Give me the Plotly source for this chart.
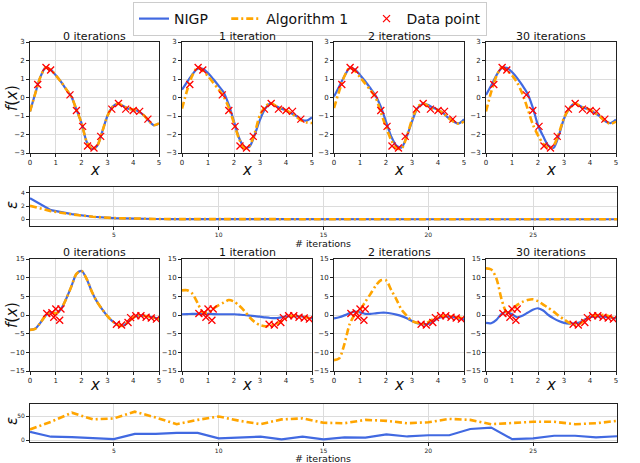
import plotly.graph_objects as go

# ---------------- data ----------------
X_GRID = [0.0, 0.2, 0.4, 0.6, 0.8, 1.0, 1.2, 1.4, 1.6, 1.8, 2.0, 2.2, 2.4,
          2.6, 2.8, 3.0, 3.2, 3.4, 3.6, 3.8, 4.0, 4.2, 4.4, 4.6, 4.8, 5.0]
TITLES = ["0 iterations", "1 iteration", "2 iterations", "30 iterations"]

# top row data points
TOP_PTS_X = [0.30, 0.62, 0.80, 1.55, 1.80, 2.04, 2.23, 2.48, 2.74, 3.17, 3.43, 3.71, 4.00, 4.25, 4.57]
TOP_PTS_Y = [0.70, 1.62, 1.49, 0.14, -0.70, -1.56, -2.62, -2.73, -2.10, -0.63, -0.32, -0.63, -0.70, -0.75, -1.17]

# top row curves
TOP_NIGP_0 = [-0.75, 0.20, 1.10, 1.60, 1.50, 1.20, 0.85, 0.45, 0.05, -0.65, -1.40, -2.40, -2.78,
              -2.62, -1.85, -1.00, -0.50, -0.33, -0.45, -0.60, -0.65, -0.75, -0.95, -1.25, -1.50, -1.40]
TOP_ALG_0 = [-0.75, 0.20, 1.10, 1.60, 1.50, 1.20, 0.85, 0.45, 0.05, -0.65, -1.40, -2.40, -2.78,
             -2.62, -1.85, -1.00, -0.50, -0.33, -0.45, -0.60, -0.65, -0.75, -0.95, -1.25, -1.50, -1.40]
TOP_NIGP_1 = [0.42, 0.85, 1.25, 1.55, 1.55, 1.32, 1.00, 0.65, 0.28, -0.40, -1.30, -2.20, -2.70,
              -2.65, -2.00, -1.20, -0.60, -0.33, -0.45, -0.60, -0.70, -0.85, -1.00, -1.20, -1.25, -1.08]
TOP_ALG_1 = [-0.60, 0.40, 1.20, 1.62, 1.45, 1.15, 0.80, 0.45, 0.05, -0.55, -1.40, -2.25, -2.75,
             -2.60, -1.90, -0.95, -0.50, -0.30, -0.45, -0.60, -0.70, -0.85, -1.05, -1.25, -1.35, -1.38]
TOP_NIGP_2 = [0.05, 0.60, 1.15, 1.58, 1.52, 1.22, 0.88, 0.50, 0.10, -0.50, -1.30, -2.10, -2.60,
              -2.70, -2.10, -1.30, -0.60, -0.35, -0.40, -0.55, -0.66, -0.85, -1.10, -1.30, -1.40, -1.17]
TOP_ALG_2 = [-0.57, 0.35, 1.15, 1.60, 1.45, 1.10, 0.75, 0.40, 0.00, -0.80, -1.60, -2.30, -2.75,
             -2.75, -2.10, -1.20, -0.55, -0.30, -0.45, -0.60, -0.68, -0.85, -1.10, -1.30, -1.42, -1.30]
TOP_NIGP_30 = [0.14, 0.65, 1.20, 1.58, 1.60, 1.38, 1.05, 0.65, 0.20, -0.55, -1.50, -2.10, -2.60,
               -2.72, -2.05, -1.15, -0.60, -0.33, -0.45, -0.58, -0.66, -0.85, -1.05, -1.30, -1.38, -1.20]
TOP_ALG_30 = [-0.75, 0.30, 1.15, 1.62, 1.45, 1.20, 0.80, 0.20, -0.60, -1.45, -2.05, -2.50, -2.75,
              -2.60, -1.95, -1.10, -0.60, -0.32, -0.45, -0.58, -0.66, -0.85, -1.05, -1.30, -1.42, -1.30]

# bottom row data points
BOT_PTS_X = [0.65, 0.85, 0.92, 1.00, 1.20, 1.15, 3.35, 3.55, 3.80, 3.90, 4.10, 4.30, 4.50, 4.70, 4.90]
BOT_PTS_Y = [0.40, 0.60, -0.60, 1.60, 1.60, -1.40, -2.50, -2.70, -2.00, -0.70, -0.20, -0.20, -0.60, -0.80, -1.10]

# bottom row curves
BOT_NIGP_0 = [-4.0, -3.7, -2.1, -0.2, 0.8, 0.4, 1.6, 4.3, 7.6, 11.0, 11.8, 9.6, 6.2,
              3.5, 1.5, -0.3, -1.7, -2.6, -2.9, -1.9, -0.7, -0.1, -0.2, -0.4, -0.7, -1.0]
BOT_ALG_0 = [-4.0, -3.7, -2.1, -0.2, 0.8, 0.4, 1.6, 4.3, 7.6, 11.0, 11.8, 9.6, 6.2,
             3.5, 1.5, -0.3, -1.7, -2.6, -2.9, -1.9, -0.7, -0.1, -0.2, -0.4, -0.7, -1.0]
BOT_NIGP_1 = [0.2, 0.25, 0.3, 0.3, 0.3, 0.3, 0.25, 0.2, 0.2, 0.2, 0.2, 0.1, 0.0,
              -0.15, -0.3, -0.45, -0.65, -0.8, -0.85, -0.65, -0.4, -0.3, -0.3, -0.4, -0.6, -0.9]
BOT_ALG_1 = [6.6, 6.6, 5.7, 3.2, 0.7, 0.6, 1.7, 2.6, 3.3, 4.0, 3.6, 2.5, 1.1,
             -0.6, -1.9, -2.7, -3.0, -2.9, -2.5, -1.8, -0.9, -0.3, -0.2, -0.35, -0.7, -1.2]
BOT_NIGP_2 = [-0.9, -0.6, -0.1, 0.5, 0.9, 0.7, 0.3, 0.3, 0.45, 0.6, 0.6, 0.4, 0.1,
              -0.3, -0.9, -1.6, -2.2, -2.45, -2.45, -1.8, -0.9, -0.5, -0.4, -0.6, -0.9, -1.2]
BOT_ALG_2 = [-12.1, -11.6, -7.8, -2.5, 0.1, 1.4, 3.5, 5.6, 7.8, 9.3, 9.3, 6.7, 4.2,
             1.4, -0.2, -1.6, -2.1, -2.3, -2.0, -1.2, -0.4, -0.3, -0.3, -0.5, -0.7, -0.9]
BOT_NIGP_30 = [-2.1, -2.2, -1.3, 0.3, 0.8, 0.2, -0.6, -0.2, 0.6, 1.4, 1.8, 1.2, 0.0,
               -0.9, -1.6, -2.1, -2.3, -2.2, -2.0, -1.2, -0.6, -0.45, -0.4, -0.5, -0.7, -0.9]
BOT_ALG_30 = [12.5, 12.2, 9.8, 4.2, 0.7, 1.4, 2.7, 3.5, 4.0, 4.2, 3.7, 2.8, 1.9,
              0.9, -0.2, -1.2, -2.1, -2.6, -2.4, -1.3, -0.4, -0.1, 0.0, 0.0, -0.5, -1.0]

# epsilon vs iterations
ITERS = list(range(1, 30))
EPS_TOP_NIGP = [3.2, 1.4, 0.8, 0.4, 0.2, 0.1, 0.06, 0.04, 0.03, 0.02, 0.02, 0.02, 0.02, 0.02, 0.02,
                0.02, 0.02, 0.02, 0.02, 0.02, 0.02, 0.02, 0.02, 0.02, 0.02, 0.02, 0.02, 0.02, 0.02]
EPS_TOP_ALG = [2.05, 1.25, 0.75, 0.4, 0.2, 0.1, 0.06, 0.04, 0.03, 0.02, 0.02, 0.02, 0.02, 0.02, 0.02,
               0.02, 0.02, 0.02, 0.02, 0.02, 0.02, 0.02, 0.02, 0.02, 0.02, 0.02, 0.02, 0.02, 0.02]
EPS_BOT_NIGP = [17, 7, 6, 3.5, 2, 13, 13, 15, 15, 3.5, 5, 7, 1.5, 7, 1.5,
                5.5, 5, 12, 7.5, 10, 10, 23, 26, 2, 3.5, 9, 9, 5.5, 8]
EPS_BOT_ALG = [22, 38, 57, 43, 45, 59, 47, 33, 42, 49, 40, 33, 43, 45, 36,
               35, 42, 40, 35, 37, 44, 42, 33, 35, 38, 38, 33, 35, 40]

LEGEND_NAMES = ["NIGP", "Algorithm 1", "Data point"]

# ---------------- styling ----------------
BLUE = "#4169E1"
ORANGE = "#FFA500"
FONT = "DejaVu Sans"
W, H = 640, 463

PANEL_X = [(30, 159), (182, 312), (334, 464), (486, 616)]
ROW1_Y = (42, 153)
EPS1_Y = (187, 226)
ROW2_Y = (259, 371)
EPS2_Y = (404, 442)
PAD = "\u00a0" * 3


def xd(a, b):
    return [a / W, b / W]


def yd(a, b):
    return [1 - b / H, 1 - a / H]


fig = go.Figure()

axis_common = dict(showline=True, mirror=True, linecolor="#222", linewidth=1,
                   ticks="outside", ticklen=3, tickwidth=0.8, tickcolor="#222",
                   tickfont=dict(size=7, family=FONT, color="#222"),
                   showgrid=True, gridcolor="#dcdcdc", gridwidth=1, zeroline=False,
                   automargin=False)

layout = {}
top_sets = [(TOP_NIGP_0, TOP_ALG_0), (TOP_NIGP_1, TOP_ALG_1), (TOP_NIGP_2, TOP_ALG_2), (TOP_NIGP_30, TOP_ALG_30)]
bot_sets = [(BOT_NIGP_0, BOT_ALG_0), (BOT_NIGP_1, BOT_ALG_1), (BOT_NIGP_2, BOT_ALG_2), (BOT_NIGP_30, BOT_ALG_30)]

first = True
for row, (sets, ydom, yr, ytv, px, py) in enumerate([
        (top_sets, ROW1_Y, [-3, 3], [-3, -2, -1, 0, 1, 2, 3], TOP_PTS_X, TOP_PTS_Y),
        (bot_sets, ROW2_Y, [-15, 15], [-15, -10, -5, 0, 5, 10, 15], BOT_PTS_X, BOT_PTS_Y)]):
    for i in range(4):
        n = i + 1 if row == 0 else i + 6
        sfx = "" if n == 1 else str(n)
        layout["xaxis" + sfx] = dict(axis_common, domain=xd(*PANEL_X[i]), range=[0, 5],
                                     tickvals=[0, 1, 2, 3, 4, 5], anchor="y" + sfx)
        layout["yaxis" + sfx] = dict(axis_common, domain=yd(*ydom), range=yr,
                                     tickvals=ytv, anchor="x" + sfx)
        nigp, alg = sets[i]
        fig.add_trace(go.Scatter(x=X_GRID, y=nigp, mode="lines", line=dict(color=BLUE, width=2.2, shape="spline", smoothing=0.8),
                                 name=LEGEND_NAMES[0] + PAD, showlegend=first, xaxis="x" + sfx, yaxis="y" + sfx))
        fig.add_trace(go.Scatter(x=X_GRID, y=alg, mode="lines",
                                 line=dict(color=ORANGE, width=2.6, dash="7px,3px,2px,3px", shape="spline", smoothing=0.8),
                                 name=LEGEND_NAMES[1] + PAD, showlegend=first, xaxis="x" + sfx, yaxis="y" + sfx))
        fig.add_trace(go.Scatter(x=px, y=py, mode="markers",
                                 marker=dict(symbol="x-thin", size=7, color="red", line=dict(color="red", width=1.3)),
                                 name=LEGEND_NAMES[2], showlegend=first, xaxis="x" + sfx, yaxis="y" + sfx))
        first = False

for n, ydom, yr, ytv, nigp, alg in [(5, EPS1_Y, [-1.0, 4.9], [0, 2, 4], EPS_TOP_NIGP, EPS_TOP_ALG),
                                    (10, EPS2_Y, [-4, 75], [0, 50], EPS_BOT_NIGP, EPS_BOT_ALG)]:
    sfx = str(n)
    layout["xaxis" + sfx] = dict(axis_common, domain=xd(30, 617), range=[1, 29],
                                 tickvals=[5, 10, 15, 20, 25], anchor="y" + sfx,
                                 tickfont=dict(size=6, family=FONT, color="#222"))
    layout["yaxis" + sfx] = dict(axis_common, domain=yd(*ydom), range=yr, tickvals=ytv, anchor="x" + sfx,
                                 tickfont=dict(size=6, family=FONT, color="#222"))
    fig.add_trace(go.Scatter(x=ITERS, y=nigp, mode="lines", line=dict(color=BLUE, width=2.2),
                             showlegend=False, xaxis="x" + sfx, yaxis="y" + sfx))
    fig.add_trace(go.Scatter(x=ITERS, y=alg, mode="lines", line=dict(color=ORANGE, width=2.6, dash="7px,3px,2px,3px"),
                             showlegend=False, xaxis="x" + sfx, yaxis="y" + sfx))


def label(text, px, py, size, angle=0):
    return dict(text=text, x=px / W, y=1 - py / H, xref="paper", yref="paper", showarrow=False,
                xanchor="center", yanchor="middle", textangle=angle,
                font=dict(size=size, family=FONT, color="#111"))


ann = []
for i, t in enumerate(TITLES):
    cx = (PANEL_X[i][0] + PANEL_X[i][1]) / 2
    ann.append(label(t, cx, 36, 11))
    ann.append(label(t, cx, 252, 11))
    for yy in (170, 385):
        ann.append(label("<i>x</i>", cx, yy, 15))
for yy in (98, 315):
    ann.append(label("<i>f</i>(<i>x</i>)", 12, yy, 15, -90))
for yy in (205, 421):
    ann.append(label("<i>ε</i>", 12, yy, 15, -90))
for yy in (243, 458):
    ann.append(label("# iterations", 323, yy, 9.5))

fig.update_layout(
    width=W, height=H, autosize=False,
    margin=dict(l=0, r=0, t=0, b=0, autoexpand=False),
    paper_bgcolor="white", plot_bgcolor="white",
    font=dict(family=FONT),
    showlegend=True,
    legend=dict(orientation="h", x=133 / W, xanchor="left", y=1 - 2 / H, yanchor="top",
                bgcolor="white", bordercolor="#cccccc", borderwidth=1,
                font=dict(size=14, family=FONT, color="#111")),
    annotations=ann,
    **layout,
)

fig.write_html("out.html", config={"displayModeBar": False},
               post_script="document.body.style.margin='0';document.body.style.padding='0';")
